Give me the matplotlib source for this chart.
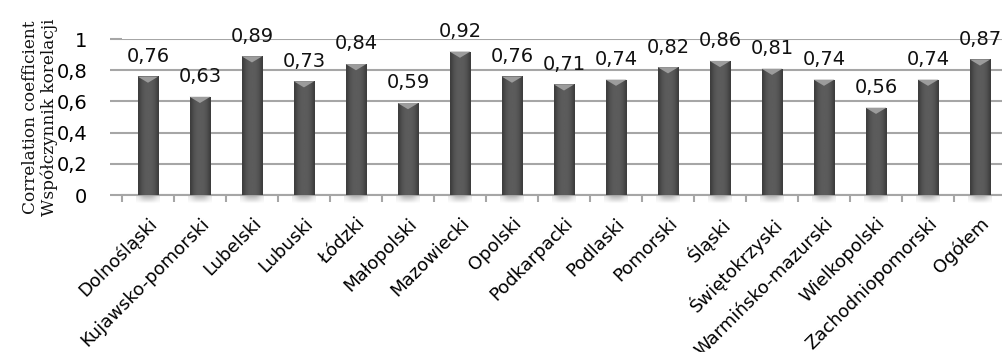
import matplotlib
matplotlib.use("Agg")
import matplotlib.pyplot as plt
import numpy as np
from matplotlib.patches import Polygon

regions = [
    "Dolnośląski", "Kujawsko-pomorski", "Lubelski", "Lubuski", "Łódzki",
    "Małopolski", "Mazowiecki", "Opolski", "Podkarpacki", "Podlaski",
    "Pomorski", "Śląski", "Świętokrzyski", "Warmińsko-mazurski",
    "Wielkopolski", "Zachodniopomorski", "Ogółem",
]
coefficients = [0.76, 0.63, 0.89, 0.73, 0.84, 0.59, 0.92, 0.76, 0.71,
                0.74, 0.82, 0.86, 0.81, 0.74, 0.56, 0.74, 0.87]
y_ticks = [0, 0.2, 0.4, 0.6, 0.8, 1]
y_label = "Correlation coefficient\nWspółczynnik korelacji"

GRID = "#a6a6a6"
BAR_W = 0.4

fig = plt.figure(figsize=(10.03, 3.52), dpi=100)
ax = fig.add_axes([0.1216, 0.446, 0.8814, 0.443])

x = np.arange(len(regions))
bars = ax.bar(x, coefficients, width=BAR_W, color="#555555", zorder=3)

# soft cylinder shading across each bar
shade = np.array([0.24, 0.29, 0.33, 0.35, 0.36, 0.36, 0.36, 0.35, 0.33, 0.29, 0.24])
grad = np.tile(shade, (2, 1))
# faint shadow fading out under the base
fade = np.linspace(0.35, 0.0, 8)[:, None] * np.array([0.3, 0.7, 1, 1, 1, 0.7, 0.3])[None, :]
shadow_rgba = np.zeros(fade.shape + (4,))
shadow_rgba[..., 3] = fade

for rect, v in zip(bars, coefficients):
    x0 = rect.get_x()
    im = ax.imshow(grad, cmap="gray", vmin=0, vmax=1, aspect="auto",
                   extent=[x0, x0 + BAR_W, 0, v], zorder=4,
                   interpolation="bicubic")
    im.set_clip_path(rect)
    ax.imshow(shadow_rgba, aspect="auto", interpolation="bicubic",
              extent=[x0 - 0.03, x0 + BAR_W + 0.03, -0.06, 0],
              zorder=1, clip_on=False)
    # light bevel on the top edge
    tri = Polygon([[x0, v], [x0 + BAR_W, v], [x0 + BAR_W / 2, v - 0.04]],
                  closed=True, facecolor="#9c9c9c", edgecolor="none", zorder=5)
    ax.add_patch(tri)
    ax.annotate(f"{v:.2f}".replace(".", ","), (x0 + BAR_W / 2, v),
                xytext=(0, 10.5), textcoords="offset points",
                ha="center", va="baseline", fontsize=14, color="#111111",
                annotation_clip=False, zorder=6)

ax.set_xlim(-0.5, len(regions) - 0.5)
ax.set_ylim(0, 1)
ax.set_yticks(y_ticks)
ax.set_yticklabels([f"{t:g}".replace(".", ",") for t in y_ticks], fontsize=14)
ax.yaxis.grid(True, color=GRID, linewidth=1.5, zorder=0)
ax.tick_params(axis="y", length=9, width=1.5, color=GRID, pad=16)

ax.set_xticks(x)
ax.set_xticklabels(regions, rotation=45, ha="right", va="top",
                   rotation_mode="anchor", fontsize=13)
ax.set_xticks(np.arange(-0.5, len(regions), 1), minor=True)
ax.tick_params(axis="x", which="major", length=0, pad=14)
ax.tick_params(axis="x", which="minor", length=5, width=1.5, color=GRID)

for side in ("top", "right", "left"):
    ax.spines[side].set_visible(False)
ax.spines["bottom"].set_color(GRID)
ax.spines["bottom"].set_linewidth(1.5)
ax.spines["bottom"].set_zorder(2)

fig.text(0.040, 0.668, y_label, rotation=90, ha="center", va="center",
         fontsize=12.2, family="DejaVu Serif", color="#111111",
         linespacing=1.1)

fig.savefig("out.png", dpi=100)
